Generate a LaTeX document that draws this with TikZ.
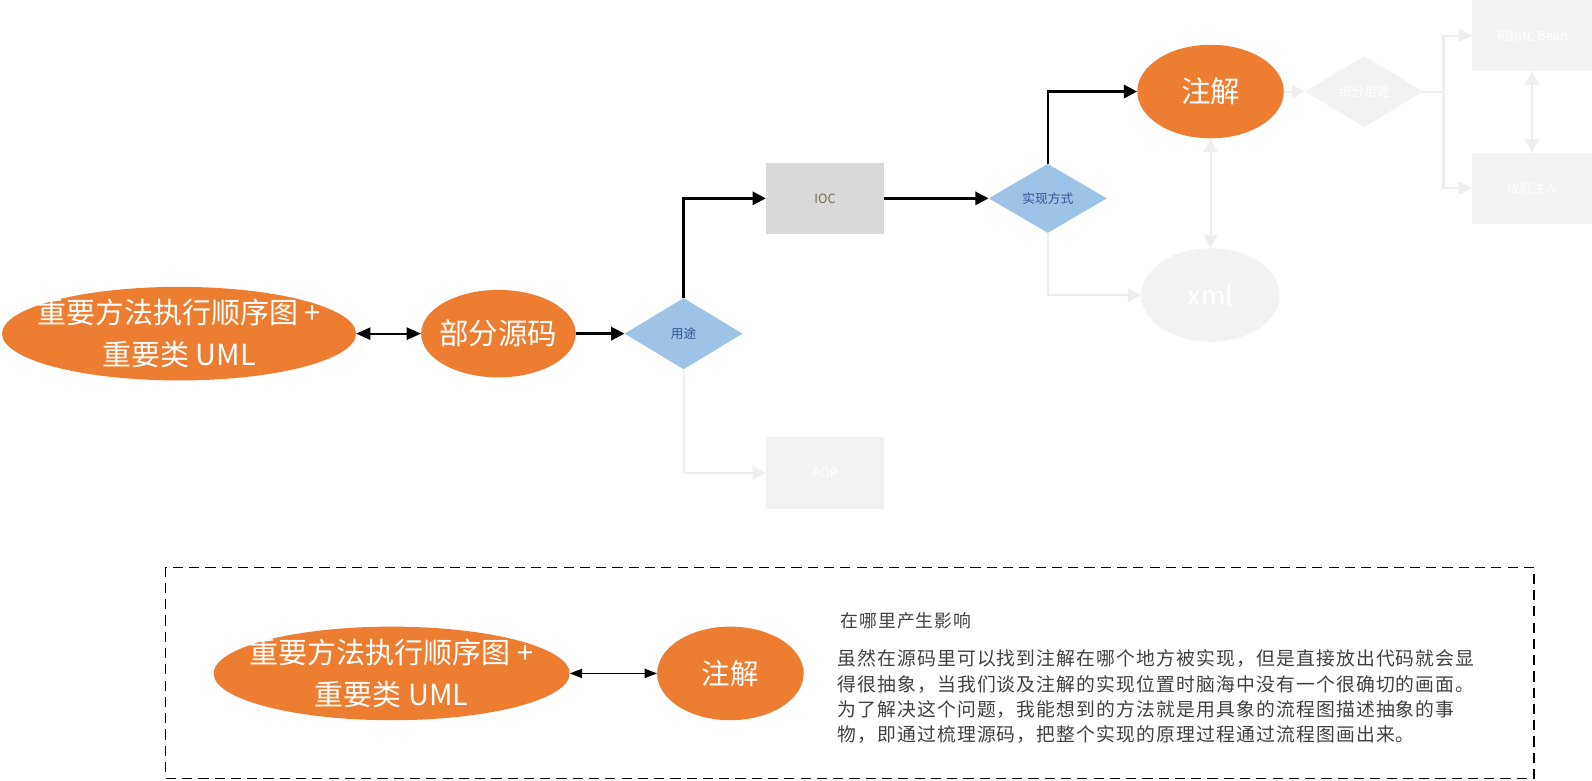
\documentclass[tikz,border=0pt]{standalone}
\usepackage{fontspec}
\setmainfont{Noto Sans CJK SC}
\newfontfamily\paraf[LetterSpace=6]{Noto Sans CJK SC}
\usetikzlibrary{shapes.geometric,arrows.meta}
\definecolor{org}{HTML}{ED7D31}
\definecolor{dblue}{HTML}{9DC3E6}
\definecolor{dtext}{HTML}{2F5597}
\definecolor{iocfill}{HTML}{D9D9D9}
\definecolor{ioctext}{HTML}{806A55}
\definecolor{faint}{HTML}{F2F2F2}
\definecolor{faintln}{HTML}{EEEEEE}
\definecolor{para}{HTML}{404040}
\begin{document}
\begin{tikzpicture}[x=1pt,y=-1pt,
  ell/.style={ellipse, fill=org, draw=none, inner sep=0pt},
  fell/.style={ellipse, fill=faint, draw=none, inner sep=0pt},
  lbl/.style={text=white, align=center, inner sep=0pt},
  dia/.style={diamond, fill=dblue, minimum width=116pt, minimum height=70pt, inner sep=0pt, text=dtext, font=\fontsize{12.5}{15}\selectfont},
  fdia/.style={dia, fill=faint, text=white},
  rbox/.style={rectangle, minimum width=116pt, minimum height=70pt, inner sep=0pt, font=\fontsize{12.5}{15}\selectfont},
  flow/.style={line width=2.5pt, -{Triangle[length=13pt,width=13pt]}},
  dbl/.style={line width=2pt, {Triangle[length=14pt,width=12pt]}-{Triangle[length=14pt,width=12pt]}},
  sdbl/.style={line width=1.5pt, {Triangle[length=12pt,width=9pt]}-{Triangle[length=12pt,width=9pt]}},
  fline/.style={line width=2pt, draw=faintln},
  farrow/.style={fline, -{Triangle[length=13pt,width=13pt]}},
  fdbl/.style={fline, {Triangle[length=13pt,width=13pt]}-{Triangle[length=13pt,width=13pt]}},
  big/.style={font=\fontsize{28.5}{41}\selectfont},
  bigb/.style={font=\fontsize{29}{34}\selectfont}
]
\useasboundingbox (0,0) rectangle (1565,767);

% ---------- top flow ----------
\node[ell, minimum width=348pt, minimum height=92pt] (e1) at (176,328) {};
\node[lbl, big] (e1t) at (e1) {重要方法执行顺序图 +\\重要类 UML};
\node[ell, minimum width=152pt, minimum height=86pt] (src) at (490,328) {};
\node[lbl, bigb] (srct) at (src) {部分源码};
\node[dia] (yt) at (672,328) {用途};
\node[rbox, fill=iocfill, text=ioctext] (ioc) at (811,195) {IOC};
\node[dia, minimum height=68pt] (sx) at (1030,195) {实现方式};
\node[ell, minimum width=144pt, minimum height=92pt] (zj) at (1190,90) {};
\node[lbl, bigb] (zjt) at (zj) {注解};

% faint nodes
\node[fell, minimum width=136pt, minimum height=92pt] (xml) at (1190,290) {};
\node[lbl, font=\fontsize{26}{30}\selectfont] (xmlt) at (xml) {xml};
\node[rbox, fill=faint, text=white] (aop) at (811,465) {AOP};
\node[fdia] (xf) at (1341,90) {细分用途};
\node[rbox, fill=faint, text=white, minimum width=118pt] (b1) at (1506,35) {初始化 Bean};
\node[rbox, fill=faint, text=white, minimum width=118pt] (b2) at (1506,185) {依赖注入};
\coordinate (split) at (1419,90);

\draw[dbl] (e1) -- (src);
\draw[flow] (src) -- (yt);
\draw[flow] (yt.north) |- (ioc.west);
\draw[flow] (ioc) -- (sx);
\draw[flow] (sx.north) |- (zj.west);

\draw[farrow] (yt.south) |- (aop.west);
\draw[farrow] (sx.south) |- (xml.west);
\draw[fdbl] (zj.south) -- (xml.north);
\draw[farrow] (zj.east) -- (xf.west);
\draw[fline] (xf.east) -- (split);
\draw[farrow] (split) |- (b1.west);
\draw[farrow] (split) |- (b2.west);
\draw[fdbl] (b1.south) -- (b2.north);

% ---------- bottom panel ----------
\node[draw=black, line width=1.3pt, dash pattern=on 10pt off 6pt, minimum width=1345pt, minimum height=207pt, inner sep=0pt] (panel) at (835.5,661.5) {};
\node[ell, minimum width=350pt, minimum height=92pt] (be1) at (385,662) {};
\node[lbl, big] (be1t) at (be1) {重要方法执行顺序图 +\\重要类 UML};
\node[ell, minimum width=144pt, minimum height=92pt] (bzj) at (718,662) {};
\node[lbl, font=\fontsize{28}{34}\selectfont] (bzjt) at (bzj) {注解};
\draw[sdbl] (be1) -- (bzj);

\node[anchor=west, inner sep=0pt, text=para, font=\paraf\fontsize{17.5}{20}\selectfont] (ttl) at (826,610) {在哪里产生影响};
\node[anchor=west, align=left, inner sep=0pt, text=para, font=\paraf\fontsize{18.5}{25}\selectfont] (para) at (823,685)
  {虽然在源码里可以找到注解在哪个地方被实现，但是直接放出代码就会显\\
   得很抽象，当我们谈及注解的实现位置时脑海中没有一个很确切的画面。\\
   为了解决这个问题，我能想到的方法就是用具象的流程图描述抽象的事\\
   物，即通过梳理源码，把整个实现的原理过程通过流程图画出来。};
\end{tikzpicture}
\end{document}
